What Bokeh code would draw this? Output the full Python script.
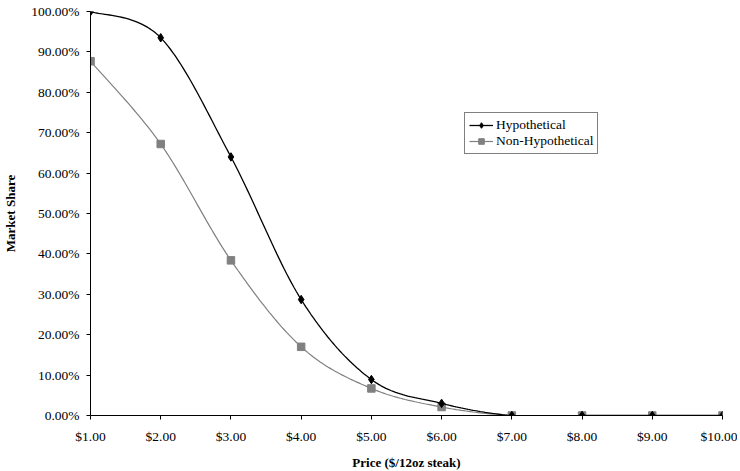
import numpy as np
from bokeh.plotting import figure
from bokeh.models import (Legend, LegendItem, NumeralTickFormatter, FixedTicker, Range1d)
from bokeh.embed import file_html
from bokeh.resources import INLINE

# ---- data ----
prices = [1, 2, 3, 4, 5, 6, 7, 8, 9, 10]
price_labels = ["$1.00", "$2.00", "$3.00", "$4.00", "$5.00",
                "$6.00", "$7.00", "$8.00", "$9.00", "$10.00"]
hypothetical = [1.000, 0.935, 0.640, 0.287, 0.089, 0.030, 0.0, 0.0, 0.0, 0.0]
non_hypothetical = [0.877, 0.672, 0.384, 0.170, 0.067, 0.021, 0.0, 0.0, 0.0, 0.0]
share_ticks = [0.0, 0.1, 0.2, 0.3, 0.4, 0.5, 0.6, 0.7, 0.8, 0.9, 1.0]


def smooth(xs, ys, n=30):
    """Excel-style smoothed line: cubic Bezier with control points from neighbours."""
    xs = np.asarray(xs, float)
    ys = np.asarray(ys, float)
    m = len(xs)
    ox, oy = [], []
    t = np.linspace(0, 1, n)
    for i in range(m - 1):
        p0 = np.array([xs[i], ys[i]])
        p3 = np.array([xs[i + 1], ys[i + 1]])
        pm = np.array([xs[max(i - 1, 0)], ys[max(i - 1, 0)]])
        pp = np.array([xs[min(i + 2, m - 1)], ys[min(i + 2, m - 1)]])
        c1 = p0 + (p3 - pm) / 6.0
        c2 = p3 - (pp - p0) / 6.0
        for tt in (t if i == 0 else t[1:]):
            b = ((1 - tt) ** 3) * p0 + 3 * ((1 - tt) ** 2) * tt * c1 + 3 * (1 - tt) * tt ** 2 * c2 + tt ** 3 * p3
            ox.append(b[0])
            oy.append(b[1])
    return ox, oy


FONT = "Liberation Serif"

p = figure(frame_width=632, frame_height=404, output_backend="svg", toolbar_location=None,
           x_range=Range1d(1, 10), y_range=Range1d(0, 1.0),
           min_border_left=81, min_border_right=15, min_border_top=11, min_border_bottom=40)
p.outline_line_color = None
p.xgrid.visible = False
p.ygrid.visible = False
p.background_fill_color = "white"
p.border_fill_color = "white"

hx, hy = smooth(prices, hypothetical)
nx, ny = smooth(prices, non_hypothetical)

l_non = p.line(nx, ny, line_color="#808080", line_width=1.2)
s_non = p.scatter(prices, non_hypothetical, marker="square", size=7.5,
                  fill_color="#808080", line_color="#808080")
l_hyp = p.line(hx, hy, line_color="black", line_width=1.3)
s_hyp = p.scatter(prices, hypothetical, marker="diamond", size=8.5,
                  fill_color="black", line_color="black")

# axes
p.xaxis.ticker = FixedTicker(ticks=prices)
p.xaxis.major_label_overrides = {x: lab for x, lab in zip(prices, price_labels)}
p.yaxis.ticker = FixedTicker(ticks=share_ticks)
p.yaxis.formatter = NumeralTickFormatter(format="0.00%")
for ax in (p.xaxis[0], p.yaxis[0]):
    ax.axis_line_color = "black"
    ax.axis_line_width = 1
    ax.major_tick_line_color = "black"
    ax.major_tick_out = 4
    ax.major_tick_in = 0
    ax.minor_tick_line_color = None
    ax.major_label_text_font = FONT
    ax.major_label_text_font_size = "13.5px"
    ax.major_label_text_color = "black"
    ax.axis_label_text_font = FONT
    ax.axis_label_text_font_size = "13px"
    ax.axis_label_text_font_style = "bold"
    ax.axis_label_text_color = "black"
p.xaxis.axis_label = "Price ($/12oz steak)"
p.yaxis.axis_label = "Market Share"
p.xaxis.major_label_standoff = 9
p.yaxis.major_label_standoff = 7
p.xaxis.axis_label_standoff = 8
p.yaxis.axis_label_standoff = 10

legend = Legend(items=[
    LegendItem(label="Hypothetical", renderers=[l_hyp, s_hyp]),
    LegendItem(label="Non-Hypothetical", renderers=[l_non, s_non]),
], location=(374, 261))
legend.border_line_color = "black"
legend.border_line_width = 1
legend.background_fill_color = "white"
legend.background_fill_alpha = 1
legend.label_text_font = FONT
legend.label_text_font_size = "13.5px"
legend.label_text_color = "black"
legend.glyph_width = 24
legend.glyph_height = 14
legend.label_standoff = 3
legend.spacing = 0
legend.padding = 4
legend.margin = 0
legend.label_height = 14
p.add_layout(legend, "center")

open("out.html", "w").write(file_html(p, INLINE))
